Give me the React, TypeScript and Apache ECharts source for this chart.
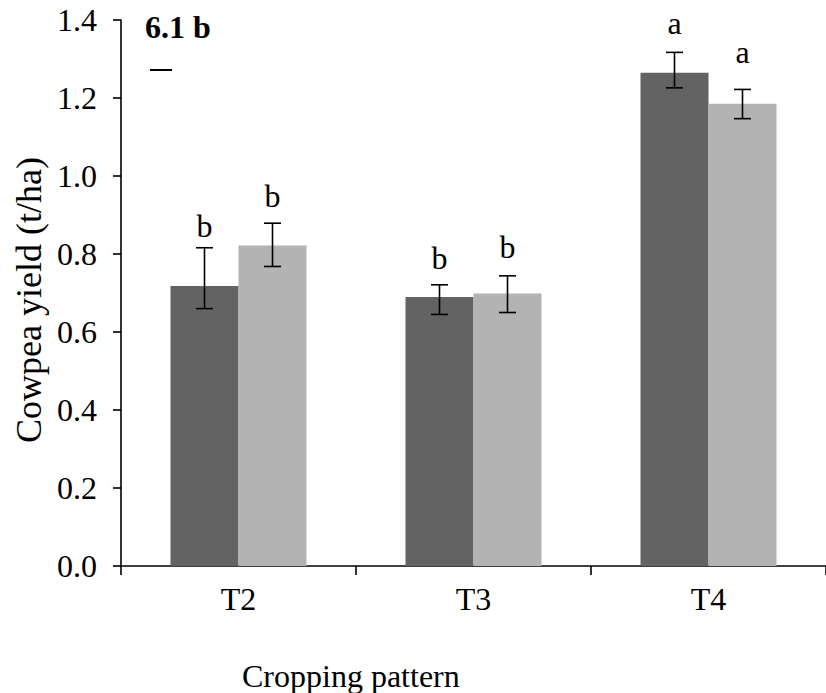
import React, { useEffect, useRef } from "react";
import * as echarts from "echarts";

const categories = ["T2", "T3", "T4"];
const darkValues = [0.718, 0.69, 1.265];
const lightValues = [0.822, 0.699, 1.185];
const darkErrHigh = [0.816, 0.721, 1.317];
const darkErrLow = [0.66, 0.645, 1.226];
const lightErrHigh = [0.879, 0.744, 1.222];
const lightErrLow = [0.768, 0.65, 1.147];
const darkLetters = ["b", "b", "a"];
const lightLetters = ["b", "b", "a"];
const darkLetterY = [0.849, 0.767, 1.369];
const lightLetterY = [0.926, 0.795, 1.295];
const yTicks = [0, 0.2, 0.4, 0.6, 0.8, 1.0, 1.2, 1.4];

const FONT = "Liberation Serif";
const BAR_W = 68;

function errSeries(hi: number[], lo: number[], letters: string[], letterY: number[], offset: number) {
  return {
    type: "custom",
    data: categories.map((_, i) => [i, hi[i], lo[i], letterY[i]]),
    z: 10,
    renderItem: (params: any, api: any) => {
      const idx = api.value(0);
      const pHi = api.coord([idx, api.value(1)]);
      const pLo = api.coord([idx, api.value(2)]);
      const pL = api.coord([idx, api.value(3)]);
      const x = pHi[0] + offset;
      const cap = 8.5;
      const ls = { stroke: "#000", lineWidth: 1.6 };
      return {
        type: "group",
        children: [
          { type: "line", shape: { x1: x, y1: pHi[1], x2: x, y2: pLo[1] }, style: ls },
          { type: "line", shape: { x1: x - cap, y1: pHi[1], x2: x + cap, y2: pHi[1] }, style: ls },
          { type: "line", shape: { x1: x - cap, y1: pLo[1], x2: x + cap, y2: pLo[1] }, style: ls },
          {
            type: "text",
            style: {
              text: letters[params.dataIndex],
              x: x,
              y: pL[1] + 7,
              align: "center",
              verticalAlign: "bottom",
              fontSize: 32,
              fontFamily: FONT,
              fill: "#000",
            },
          },
        ],
      };
    },
  };
}

export default function App() {
  const ref = useRef<HTMLDivElement>(null);
  useEffect(() => {
    if (!ref.current) return;
    const chart = echarts.init(ref.current, null, { renderer: "svg" });
    chart.setOption({
      animation: false,
      backgroundColor: "#fff",
      textStyle: { fontFamily: FONT },
      grid: { left: 121, top: 20, bottom: 127, right: -9, containLabel: false },
      xAxis: {
        type: "category",
        data: categories,
        axisLine: { lineStyle: { color: "#000", width: 1.6 } },
        axisTick: { show: true, length: 9, lineStyle: { color: "#000", width: 1.6 } },
        axisLabel: { color: "#000", fontSize: 32, fontFamily: FONT, margin: 17 },
      },
      yAxis: {
        type: "value",
        min: 0,
        max: 1.4,
        interval: 0.2,
        axisLine: { show: true, lineStyle: { color: "#000", width: 1.6 } },
        axisTick: { show: true, length: 8, lineStyle: { color: "#000", width: 1.6 } },
        splitLine: { show: false },
        axisLabel: {
          color: "#000",
          fontSize: 32,
          fontFamily: FONT,
          margin: 24,
          formatter: (v: number) => {
            const t = yTicks.find((x) => Math.abs(x - v) < 1e-6);
            return (t !== undefined ? t : v).toFixed(1);
          },
        },
      },
      series: [
        {
          type: "bar",
          data: darkValues,
          barWidth: BAR_W,
          barGap: "0%",
          itemStyle: { color: "#636363" },
        },
        {
          type: "bar",
          data: lightValues,
          barWidth: BAR_W,
          barGap: "0%",
          itemStyle: { color: "#b3b3b3" },
        },
        errSeries(darkErrHigh, darkErrLow, darkLetters, darkLetterY, -BAR_W / 2),
        errSeries(lightErrHigh, lightErrLow, lightLetters, lightLetterY, BAR_W / 2),
      ],
      graphic: [
        {
          type: "text",
          x: 29,
          y: 300,
          rotation: Math.PI / 2,
          style: {
            text: "Cowpea yield (t/ha)",
            align: "center",
            verticalAlign: "middle",
            fontSize: 36,
            fontFamily: FONT,
            fill: "#000",
          },
        },
        {
          type: "text",
          x: 242,
          y: 692,
          style: {
            text: "Cropping pattern",
            align: "left",
            verticalAlign: "bottom",
            fontSize: 32,
            fontFamily: FONT,
            fill: "#000",
          },
        },
        {
          type: "text",
          x: 145,
          y: 27,
          style: {
            text: "6.1 b",
            align: "left",
            verticalAlign: "middle",
            fontSize: 32,
            fontWeight: "bold",
            fontFamily: FONT,
            fill: "#000",
          },
        },
        {
          type: "line",
          shape: { x1: 150, y1: 70, x2: 172, y2: 70 },
          style: { stroke: "#000", lineWidth: 2 },
        },
      ],
    });
    return () => chart.dispose();
  }, []);
  return (
    <div
      ref={ref}
      style={{ position: "absolute", left: 0, top: 0, width: 826, height: 693 }}
    />
  );
}
